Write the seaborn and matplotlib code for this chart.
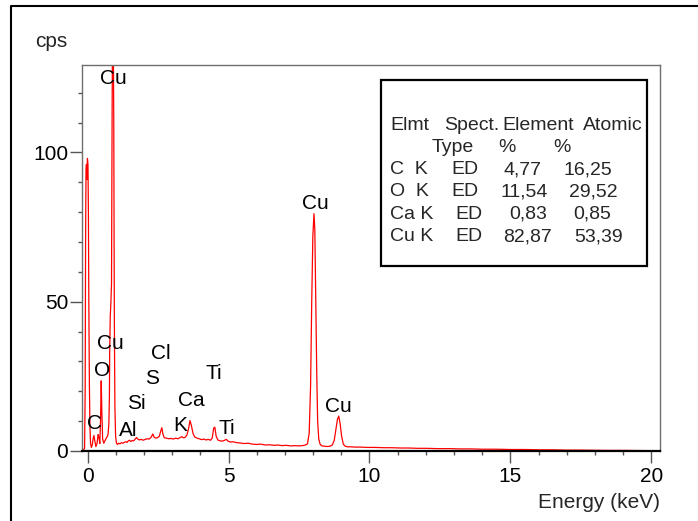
import pandas as pd
import seaborn as sns
import matplotlib
matplotlib.use("Agg")
import matplotlib.pyplot as plt
from matplotlib.lines import Line2D
from matplotlib.patches import Rectangle
from matplotlib.ticker import MultipleLocator

# EDS spectrum: energy (keV) and count rate (cps)
energy_kev = [
    -0.21, -0.15, -0.11, -0.09, -0.075, -0.06, -0.045, -0.03, -0.01, 0.01,
    0.025, 0.04, 0.06, 0.08, 0.10, 0.13, 0.16, 0.19, 0.22, 0.25,
    0.29, 0.33, 0.37, 0.40, 0.43, 0.455, 0.48, 0.50, 0.53, 0.57,
    0.61, 0.65, 0.69, 0.72, 0.75, 0.77, 0.78, 0.80, 0.82, 0.845,
    0.865, 0.885, 0.905, 0.925, 0.945, 0.965, 0.99, 1.02, 1.06, 1.10,
    1.15, 1.20, 1.25, 1.30, 1.35, 1.40, 1.44, 1.48, 1.53, 1.58,
    1.63, 1.68, 1.73, 1.78, 1.83, 1.90, 1.97, 2.04, 2.11, 2.18,
    2.25, 2.31, 2.36, 2.42, 2.48, 2.54, 2.59, 2.63, 2.67, 2.72,
    2.80, 2.88, 2.96, 3.04, 3.12, 3.20, 3.28, 3.34, 3.40, 3.46,
    3.52, 3.58, 3.63, 3.68, 3.74, 3.80, 3.88, 3.96, 4.04, 4.12,
    4.20, 4.28, 4.36, 4.42, 4.47, 4.51, 4.56, 4.62, 4.70, 4.78,
    4.86, 4.92, 4.98, 5.06, 5.16, 5.28, 5.40, 5.55, 5.70, 5.85,
    6.00, 6.15, 6.30, 6.45, 6.60, 6.75, 6.90, 7.05, 7.20, 7.35,
    7.50, 7.62, 7.72, 7.80, 7.86, 7.91, 7.95, 7.99, 8.03, 8.06,
    8.10, 8.13, 8.16, 8.20, 8.25, 8.32, 8.40, 8.50, 8.60, 8.68,
    8.75, 8.81, 8.86, 8.91, 8.96, 9.01, 9.07, 9.14, 9.22, 9.35,
    9.5, 9.7, 9.9, 10.2, 10.5, 10.8, 11.1, 11.4, 11.7, 12.0,
    12.4, 12.8, 13.2, 13.6, 14.0, 14.5, 15.0, 15.5, 16.0, 16.5,
    17.0, 17.5, 18.0, 18.5, 19.0, 19.5, 20.0, 20.3,
]
counts_cps = [
    0.0, 0.3, 1.0, 20, 70, 94, 96, 91, 98, 96,
    80, 50, 22, 8, 2.5, 1.2, 2.0, 4.0, 5.2, 3.5,
    1.5, 2.5, 5.5, 4.5, 2.5, 10, 23.5, 14, 4, 2.6,
    3.4, 4.2, 4.8, 5.5, 9, 18, 33, 45, 49, 56,
    110, 150, 145, 110, 45, 15, 5, 2.6, 2.2, 2.6,
    2.4, 2.8, 2.6, 2.9, 3.1, 2.9, 3.4, 3.6, 3.2, 3.5,
    3.4, 3.9, 4.5, 4.0, 3.7, 3.9, 3.6, 3.9, 4.1, 4.0,
    4.6, 5.7, 4.6, 4.3, 4.5, 4.9, 6.6, 7.8, 5.6, 4.4,
    4.3, 4.1, 4.2, 4.0, 4.3, 4.1, 4.5, 4.8, 4.4, 4.6,
    5.3, 7.5, 10.2, 8.5, 5.8, 4.7, 4.3, 4.1, 3.8, 4.0,
    3.7, 3.9, 3.6, 4.4, 7.6, 8.0, 4.9, 3.7, 3.4, 3.3,
    3.6, 3.9, 3.3, 3.0, 3.1, 2.8, 2.7, 2.5, 2.6, 2.3,
    2.2, 2.3, 2.0, 2.1, 1.9, 2.0, 1.8, 1.9, 1.7, 1.8,
    1.7, 1.8, 2.0, 2.4, 6, 22, 50, 72, 79.5, 74,
    46, 25, 10, 4, 2.2, 1.7, 1.6, 1.5, 1.6, 2.0,
    3.6, 7.5, 10.5, 11.7, 9.0, 5.0, 2.3, 1.6, 1.4, 1.4,
    1.3, 1.3, 1.2, 1.2, 1.1, 1.1, 1.0, 1.0, 0.9, 0.9,
    0.8, 0.8, 0.7, 0.7, 0.6, 0.6, 0.5, 0.5, 0.4, 0.4,
    0.3, 0.3, 0.25, 0.2, 0.2, 0.15, 0.1, 0.1,
]

# Peak identification labels (text baseline position in data units)
peak_labels = ["Cu", "Cu", "Cu", "Cu", "O", "C", "Al", "Si", "S", "Cl",
               "Ca", "K", "Ti", "Ti"]
label_kev = [0.90, 8.07, 8.89, 0.79, 0.52, 0.23, 1.44, 1.71, 2.29, 2.60,
             3.67, 3.28, 4.49, 4.95]
label_cps = [123.1, 81.0, 12.9, 34.1, 25.2, 7.3, 5.1, 14.0, 22.6, 30.8,
             15.2, 6.8, 24.1, 5.6]

# Quantification results
table_header = ["Elmt", "Spect.", "Element", "Atomic"]
table_subheader = ["Type", "%", "%"]
table_elements = ["C  K", "O  K", "Ca K", "Cu K"]
table_types = ["ED", "ED", "ED", "ED"]
table_weight = ["4,77", "11,54", "0,83", "82,87"]
table_atomic = ["16,25", "29,52", "0,85", "53,39"]

W, H = 698, 521
sns.set_style("white")
plt.rcParams["font.family"] = ["Liberation Sans", "DejaVu Sans"]
plt.rcParams["font.size"] = 15

fig = plt.figure(figsize=(W / 100, H / 100), dpi=100)


def fx(px):
    return px / W


def fy(py):
    return 1 - py / H


ax = fig.add_axes([fx(81.7), fy(451), fx(660.3) - fx(81.7), fy(65) - fy(451)])

df = pd.DataFrame({"Energy": energy_kev, "cps": counts_cps})
sns.lineplot(data=df, x="Energy", y="cps", ax=ax, color="#ff0000",
             linewidth=0.9, estimator=None, sort=False)

ax.set_xlim(-0.213, 20.32)
ax.set_ylim(0, 129.3)
ax.set_xlabel("")
ax.set_ylabel("")
ax.set_xticks([0, 5, 10, 15, 20])
ax.set_yticks([0, 50, 100])
ax.xaxis.set_minor_locator(MultipleLocator(1))
ax.yaxis.set_minor_locator(MultipleLocator(10))
ax.tick_params(axis="both", which="major", length=8.8, width=1,
               color="#555555", labelsize=15, labelcolor="black",
               direction="out")
ax.tick_params(axis="both", which="minor", length=2.9, width=1,
               color="#555555", direction="out")
ax.tick_params(axis="x", which="major", pad=2.8, bottom=True)
ax.tick_params(axis="x", which="minor", bottom=True)
ax.tick_params(axis="y", which="major", pad=1, left=True)
ax.tick_params(axis="y", which="minor", left=True)

for side in ("left", "top", "right"):
    ax.spines[side].set_color("#6e6e6e")
    ax.spines[side].set_linewidth(1.0)
ax.spines["bottom"].set_color("black")
ax.spines["bottom"].set_linewidth(1.6)

for lab, x, y in zip(peak_labels, label_kev, label_cps):
    ax.text(x, y, lab, ha="center", va="baseline", fontsize=15,
            color="black", clip_on=False)

# Axis captions
fig.text(fx(35), fy(41.7), "cps", ha="left", va="center", fontsize=15)
fig.text(fx(660), fy(503), "Energy (keV)", ha="right", va="center",
         fontsize=15)

# Results box
fig.add_artist(Rectangle((fx(381), fy(265.7)), fx(647) - fx(381),
                         fy(80.3) - fy(265.7), transform=fig.transFigure,
                         fill=False, edgecolor="black", linewidth=1.6))

row_y = [125 + 22.3 * i for i in range(6)]
tfs = 14


def cell(px, py, s, ha="center"):
    fig.text(fx(px), fy(py), s, ha=ha, va="center", fontsize=tfs)


cell(390, row_y[0], table_header[0], ha="left")
for lab, px in zip(table_header[1:], [472, 538.5, 613]):
    cell(px, row_y[0], lab)
for lab, px in zip(table_subheader, [453, 506.5, 561.5]):
    cell(px, row_y[1], lab)

type_x = [464.5, 464.5, 469, 469]
weight_x = [522.5, 524.5, 528.5, 527.5]
atomic_x = [587.5, 593.5, 592.5, 598.5]
for i in range(len(table_elements)):
    yy = row_y[i + 2]
    cell(390, yy, table_elements[i], ha="left")
    cell(type_x[i], yy, table_types[i])
    cell(weight_x[i], yy, table_weight[i])
    cell(atomic_x[i], yy, table_atomic[i])

# Outer frame (top and left edges)
fig.add_artist(Line2D([fx(10.7), fx(10.7), fx(700)], [fy(530), fy(5.5), fy(5.5)],
                      transform=fig.transFigure, color="black", linewidth=1.5))

fig.savefig("out.png", dpi=100)
